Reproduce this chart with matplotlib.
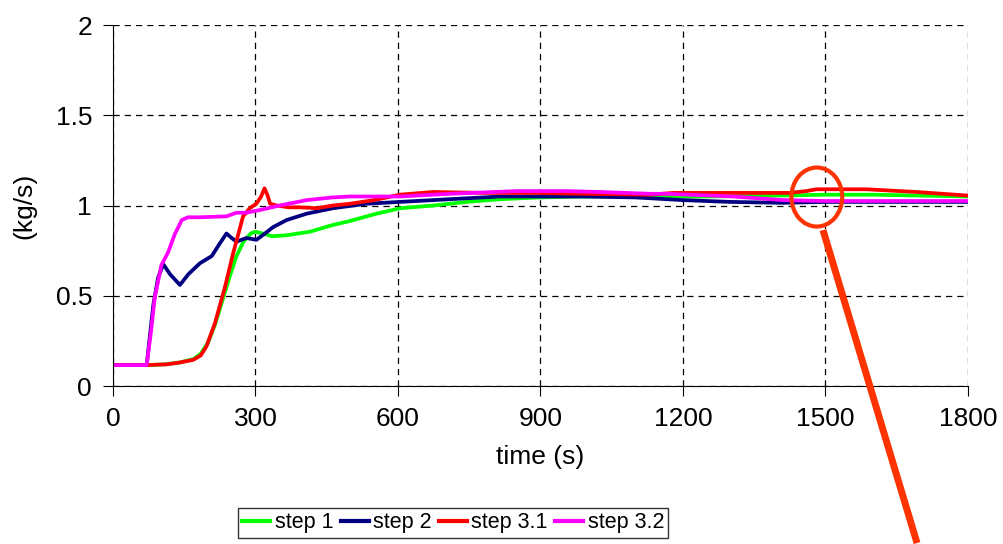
import matplotlib.pyplot as plt
from matplotlib.patches import Ellipse
from matplotlib.lines import Line2D

plt.rcParams['font.family'] = ['Liberation Sans', 'DejaVu Sans']

# data
t_step1 = [0, 70, 110, 140, 170, 185, 200, 215, 230, 245, 260, 275, 290, 300, 315, 335, 365,
           415, 460, 500, 555, 605, 675, 745, 815, 900, 990, 1130, 1250, 1400, 1500, 1600, 1700, 1800]
v_step1 = [0.116, 0.116, 0.12, 0.13, 0.15, 0.18, 0.24, 0.34, 0.47, 0.6, 0.72, 0.8, 0.845, 0.855,
           0.845, 0.83, 0.835, 0.855, 0.89, 0.915, 0.955, 0.985, 1.0, 1.02, 1.035, 1.045, 1.05,
           1.05, 1.05, 1.055, 1.06, 1.06, 1.055, 1.05]

t_step2 = [0, 71, 85, 95, 106, 120, 141, 159, 183, 208, 225, 239, 250, 260, 281, 302, 320, 337,
           366, 408, 463, 534, 604, 709, 815, 990, 1100, 1200, 1300, 1410, 1500, 1600, 1800]
v_step2 = [0.116, 0.116, 0.45, 0.6, 0.675, 0.62, 0.56, 0.62, 0.68, 0.72, 0.79, 0.845, 0.82, 0.80,
           0.82, 0.81, 0.845, 0.88, 0.92, 0.955, 0.985, 1.01, 1.02, 1.035, 1.05, 1.05, 1.045, 1.03,
           1.02, 1.015, 1.02, 1.02, 1.02]

t_step31 = [0, 70, 113, 140, 169, 185, 197, 215, 236, 253, 274, 288, 302, 312, 319, 325, 331, 345,
            370, 394, 429, 463, 499, 550, 604, 674, 780, 885, 990, 1130, 1180, 1306, 1425, 1460,
            1481, 1586, 1692, 1800]
v_step31 = [0.116, 0.116, 0.12, 0.13, 0.145, 0.17, 0.22, 0.35, 0.55, 0.735, 0.94, 0.985, 1.01,
            1.05, 1.095, 1.06, 1.01, 1.0, 0.99, 0.99, 0.985, 1.0, 1.01, 1.03, 1.06, 1.075, 1.07,
            1.07, 1.065, 1.06, 1.07, 1.07, 1.07, 1.08, 1.09, 1.09, 1.075, 1.055]

t_step32 = [0, 71, 80, 88, 102, 116, 130, 145, 158, 183, 239, 260, 281, 309, 351, 408, 463, 499,
            604, 709, 850, 955, 1025, 1131, 1166, 1306, 1411, 1500, 1800]
v_step32 = [0.116, 0.116, 0.3, 0.49, 0.67, 0.74, 0.84, 0.92, 0.935, 0.935, 0.94, 0.96, 0.96, 0.975,
            1.0, 1.03, 1.045, 1.05, 1.05, 1.065, 1.08, 1.08, 1.075, 1.065, 1.065, 1.05, 1.03,
            1.025, 1.025]

fig = plt.figure(figsize=(10.04, 5.44), dpi=100)
ax = fig.add_axes([0.1125, 0.2904, 0.8515, 0.6636])

ax.plot(t_step1, v_step1, color='#00FF00', lw=2.7, label='step 1')
ax.plot(t_step2, v_step2, color='#000080', lw=2.7, label='step 2')
ax.plot(t_step31, v_step31, color='#FF0000', lw=2.7, label='step 3.1')
ax.plot(t_step32, v_step32, color='#FF00FF', lw=2.7, label='step 3.2')

ax.set_xlim(0, 1800)
ax.set_ylim(0, 2)
ax.set_xticks(range(0, 1801, 300))
ax.set_yticks([0, 0.5, 1, 1.5, 2])
ax.set_yticklabels(['0', '0.5', '1', '1.5', '2'])
ax.grid(True, color='black', linestyle=(0, (5, 4)), lw=0.9)
ax.tick_params(labelsize=19, length=7, direction='out', pad=8)
ax.spines['top'].set_visible(False)
ax.spines['right'].set_visible(False)
ax.set_xlabel('time (s)', fontsize=19, labelpad=10)
ax.set_ylabel('(kg/s)', fontsize=19, labelpad=14)

leg = fig.legend(loc='upper center', bbox_to_anchor=(0.4515, 0.066), ncol=4, fontsize=15.5,
                 frameon=True, fancybox=False, edgecolor='black', handlelength=1.3,
                 handletextpad=0.2, columnspacing=0.35, borderpad=0.2, borderaxespad=0)
leg.get_frame().set_linewidth(1.0)
for h in leg.get_lines():
    h.set_linewidth(3)

# magnifier annotation
ax.add_patch(Ellipse((1482, 1.047), 107, 0.327, fill=False, edgecolor='#FF3300', lw=3,
                     clip_on=False, zorder=5))
ax.add_line(Line2D([1495, 1693], [0.864, -0.87], color='#FF3300', lw=5, clip_on=False,
                   solid_capstyle='butt', zorder=5))

fig.savefig('out.png', dpi=100)
